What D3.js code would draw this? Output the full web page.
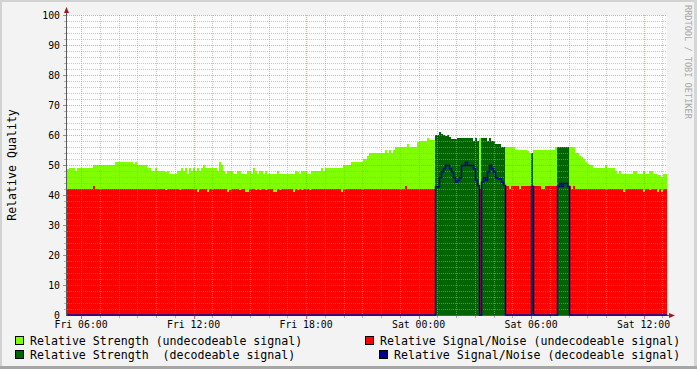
<!DOCTYPE html>
<html><head><meta charset="utf-8">
<script src="https://cdn.jsdelivr.net/npm/d3@7"></script>
<style>
html,body{margin:0;padding:0;background:#f3f3f3;}
svg{display:block;}
text{font-family:"DejaVu Sans Mono",monospace;}
</style></head><body>
<svg id="c" width="697" height="369"></svg>
<script>
// ---- data ----
const startTime = new Date(2010, 0, 1, 5, 15, 0); // a Friday, 05:15
const stepSeconds = 384;
const strength = [
48.7,49,49,49,48,49,49,49,49,49,
49,49,49,50,50,50,50,50,50,50,
50,50,50,50,51,51,51,51,51,51,
51,51,51,50.3,51,50,50,50,50,50,
49,49,48,48,49,48,48,48,48,47.7,
48,47,47,47,47,48,48,49,48,49,
47,49,48,49,48,49,48,49,50,49,
49,49,49,49,49,48,51,50,48,47,
48,48,48,47,47,48,48,47,47,47,
48,48,47,49,48,47,48,48,47,48,
47,47,47,47,47,48,47,47,47,47,
47,47,47,47,48,47.7,47,48,48,48,
47,47,48,48,48,48,48,49,48,49,
49,49,49,49,49,49,49,49,50,50,
50,50,51,51,51,51,51,51,52,52,
53,54,54,54,54,54,54,54,54,55,
54,55,54,55,56,56,56,56,56,56,
57,56,56,56,56,57.7,58,58,58,58,
59,58.3,58.3,58.3,60,60,61,60.3,60,59.7,
60,59.3,58.7,58.7,58.7,59,59,59,59,59,
59,59,59,58,59,58,59,59,59,59,
58,59,58,58,57,57,57,56,56,56,
56,56,56,56,55,55,55,55,55,55,
54.7,54,54,55,55,55,55,55,55,55,
55,55,55,55,56,56,56,56,56,56,
56,56,56,56,54,54,53,52.7,52,51,
50.3,50,50,49,49,49,49,49,49,50,
49,49,49,49,48,47,48,47,47,47,
47,47,47,48,48,47,47,47,48,47,
47,48,48,47,47,46.7,46.7,46,47,47
];
const snr = [
42,42,42,42,42,42,42,42,42,42,
42,42,42,43,42,42,42,42,42,42,
42,42,42,42,42,42,42,42,42,42,
42,42,42,42,42,42,42,42,42,42,
42,42,42,42,42,42,42,42,42,41.7,
42,42,42,42,42,42,41.7,42,42,42,
42,42,42,42,42,41,42,42,42,42,
41,42,42,42,42,42,42,42,42,42,
41,41.7,42,42,42,42,41.7,42,42,41,
41,42,42,42,41.7,42,41.7,42,42,41.7,
42,42,42,41,41,42,41.7,42,42,42,
42,42,42,41,42,41.7,42,41.7,42,42,
42,41.7,42,42,42,42,42,42,42,42,
42,42,42,42,42,42,42,41,42,42,
42,42,42,42,42,42,42,42,42,42,
42,42,42,42,42,42,42,42,42,42,
42,42,42,42,42,42,42,42,42,43,
42,42,42,42,42,42,42,42,42,42,
42,42,42,42,42.8,42.8,45.9,47.8,48.9,50,
50,48.9,47.8,45.9,44.4,45,45.9,50,50,51.1,
50,50,50,48.9,45,43.3,42,44.4,45.9,45,
47.8,50,48.9,47.8,45.9,45.6,45.6,44.4,43.3,43,
43,42,43,43,43,43,42,43,43,43,
43,43,43,43,43,43,43,42,42,43,
43,43,43,43,43,43,44,43,44,44,
43,43,42,43,42,42,42,42,42,42,
42,42,42,42,42,42,42,42,42,42,
42,42,42,42,42,42,42,42,41,42,
42,42,42,42,42,42,42,42,41,42,
42,41.7,42,42,42,41,42,41,42,42
];
const decodeRanges = [[184,205],[207,218],[232,232],[245,250]];
const yTicks = [0,10,20,30,40,50,60,70,80,90,100];
const legendLabels = [
  "Relative Strength (undecodeable signal)",
  "Relative Signal/Noise (undecodeable signal)",
  "Relative Strength  (decodeable signal)",
  "Relative Signal/Noise (decodeable signal)"
];
const legendColors = ["#80ff00","#ff0000","#006400","#00008b"];
const yTitle = "Relative Quality";
const watermark = "RRDTOOL / TOBI OETIKER";

// ---- build ----
const svg = d3.select("#c");
const W = 697, H = 369;
const L = 67, R = 667, T = 15, B = 315;

svg.append("rect").attr("width", W).attr("height", H).attr("fill", "#f3f3f3");
svg.append("rect").attr("x",0).attr("y",0).attr("width",W).attr("height",2).attr("fill","#d2d2d2");
svg.append("rect").attr("x",0).attr("y",0).attr("width",2).attr("height",H).attr("fill","#d2d2d2");
svg.append("rect").attr("x",W-3).attr("y",0).attr("width",3).attr("height",H).attr("fill","#d6d6d6");
svg.append("rect").attr("x",0).attr("y",H-3).attr("width",W).attr("height",3).attr("fill","#a6a6a6");

const n = strength.length;
const endTime = new Date(+startTime + n * stepSeconds * 1000);
const x = d3.scaleTime().domain([startTime, endTime]).range([L, R]);
const y = d3.scaleLinear().domain([0, 100]).range([B, T]);

const isDec = d3.range(n).map(i => decodeRanges.some(r => i >= r[0] && i <= r[1]));
const rows = d3.range(n).map(i => ({
  t: new Date(+startTime + i * stepSeconds * 1000),
  strUnd: isDec[i] ? 0 : strength[i],
  strDec: isDec[i] ? strength[i] : 0,
  snrUnd: isDec[i] ? 0 : snr[i],
  snrDec: isDec[i] ? snr[i] : 0
}));
rows.push(Object.assign({}, rows[n-1], {t: endTime}));

svg.append("rect").attr("x", L).attr("y", T).attr("width", R - L).attr("height", B - T).attr("fill", "#ffffff");

const plot = svg.append("g").attr("shape-rendering", "crispEdges");
function area(key) {
  return d3.area().curve(d3.curveStepAfter).x(d => x(d.t)).y0(y(0)).y1(d => y(d[key]));
}
plot.append("path").datum(rows).attr("d", area("strUnd")).attr("fill", legendColors[0]);
plot.append("path").datum(rows).attr("d", area("strDec")).attr("fill", legendColors[2]);
plot.append("path").datum(rows).attr("d", area("snrUnd")).attr("fill", legendColors[1]);

// grid
const grid = svg.append("g").attr("shape-rendering", "crispEdges");
const hours = x.ticks(d3.timeHour.every(1));
hours.forEach(h => {
  const major = h.getHours() % 6 === 0;
  const xp = Math.round(x(h)) + 0.5;
  grid.append("line").attr("x1", xp).attr("x2", xp).attr("y1", T).attr("y2", B)
    .attr("stroke", major ? "rgba(235,100,100,0.6)" : "rgba(160,160,160,0.6)")
    .attr("stroke-dasharray", "1,1");
  grid.append("line").attr("x1", xp).attr("x2", xp).attr("y1", B + 1).attr("y2", B + (major ? 4 : 3))
    .attr("stroke", major ? "rgba(200,60,60,0.7)" : "rgba(150,150,150,0.7)");
});
d3.range(2, 101, 2).forEach(v => {
  const major = v % 10 === 0;
  const yp = Math.round(y(v)) + 0.5;
  grid.append("line").attr("x1", L).attr("x2", R).attr("y1", yp).attr("y2", yp)
    .attr("stroke", major ? "rgba(235,100,100,0.6)" : "rgba(160,160,160,0.6)")
    .attr("stroke-dasharray", "1,1");
  grid.append("line").attr("x1", L - (major ? 4 : 3)).attr("x2", L - 1).attr("y1", yp).attr("y2", yp)
    .attr("stroke", major ? "rgba(200,60,60,0.7)" : "rgba(150,150,150,0.7)");
});

// axes
svg.append("line").attr("x1", 66.5).attr("x2", 66.5).attr("y1", B + 1).attr("y2", 10)
  .attr("stroke", "#5a5a5a").attr("shape-rendering", "crispEdges");
svg.append("line").attr("x1", 66).attr("x2", 671).attr("y1", 315.5).attr("y2", 315.5)
  .attr("stroke", "#5a5a5a").attr("shape-rendering", "crispEdges");
svg.append("path").attr("d", "M64,13 L69,13 L66.5,7 Z").attr("fill", "#9c1c1c");
svg.append("path").attr("d", "M669,313 L669,318 L675,315.5 Z").attr("fill", "#9c1c1c");

// blue SNR line (decodeable)
svg.append("path").datum(rows)
  .attr("d", d3.line().curve(d3.curveStepAfter).x(d => x(d.t) + 0.5).y(d => Math.min(y(d.snrDec), 314.5) + 0.5))
  .attr("fill", "none").attr("stroke", "#00009a").attr("stroke-width", 1.5);

// tick labels
const labelG = svg.append("g").attr("font-size", "9.8px").attr("fill", "#000");
yTicks.forEach(v => {
  labelG.append("text").attr("x", 60).attr("y", y(v) + 3.5).attr("text-anchor", "end").text(v);
});
const fmt = d3.timeFormat("%a %H:%M");
x.ticks(d3.timeHour.every(6)).forEach(h => {
  labelG.append("text").attr("x", x(h)).attr("y", 328).attr("text-anchor", "middle").text(fmt(h));
});

// y title
svg.append("text").attr("transform", "translate(16,165) rotate(-90)").attr("text-anchor", "middle")
  .attr("font-size", "11.6px").attr("fill", "#000").text(yTitle);
// watermark
svg.append("text").attr("transform", "translate(685,5) rotate(90)").attr("text-anchor", "start")
  .attr("font-size", "8.6px").attr("fill", "#a8a8a8").text(watermark);

// legend
const legendPos = [
  {sx: 15.5, sy: 336.5, tx: 30, ty: 345},
  {sx: 365.5, sy: 336.5, tx: 380, ty: 345},
  {sx: 15.5, sy: 350.5, tx: 30, ty: 359},
  {sx: 379.5, sy: 350.5, tx: 394, ty: 359}
];
legendLabels.forEach((lab, i) => {
  const p = legendPos[i];
  svg.append("rect").attr("x", p.sx).attr("y", p.sy).attr("width", 8).attr("height", 8)
    .attr("fill", legendColors[i]).attr("stroke", "#000").attr("stroke-width", 1)
    .attr("shape-rendering", "crispEdges");
  svg.append("text").attr("x", p.tx).attr("y", p.ty).attr("font-size", "11.6px")
    .attr("fill", "#000").style("white-space", "pre").text(lab);
});
</script>
</body></html>
